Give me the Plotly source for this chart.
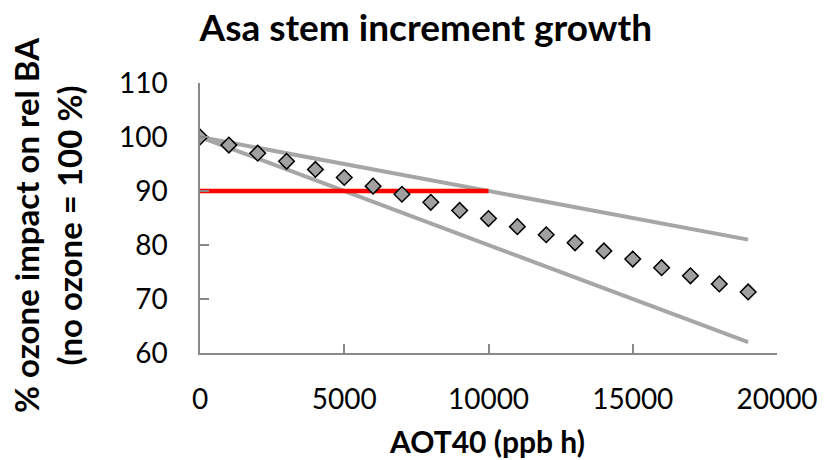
import plotly.graph_objects as go

# AOT40 exposure (ppb h) and modelled ozone impact on relative basal area (%)
aot40 = [0, 1000, 2000, 3000, 4000, 5000, 6000, 7000, 8000, 9000,
         10000, 11000, 12000, 13000, 14000, 15000, 16000, 17000, 18000, 19000]
impact = [100.0, 98.5, 97.0, 95.5, 94.0, 92.5, 90.9, 89.4, 87.9, 86.4,
          84.9, 83.4, 81.9, 80.4, 78.9, 77.4, 75.8, 74.3, 72.8, 71.3]

# Envelope lines (upper and lower bound of the response)
upper_x = [0, 19000]
upper_y = [100, 81]
lower_x = [0, 19000]
lower_y = [100, 62]

# 10 % reduction threshold
threshold_x = [0, 10000]
threshold_y = [90, 90]

x_ticks = [0, 5000, 10000, 15000, 20000]
y_ticks = [60, 70, 80, 90, 100, 110]

FONT = "Lato"
GRAY = "#A6A6A6"
AXIS = "#898989"

fig = go.Figure()
fig.add_trace(go.Scatter(x=upper_x, y=upper_y, mode="lines",
                         line=dict(color=GRAY, width=4), hoverinfo="skip"))
fig.add_trace(go.Scatter(x=lower_x, y=lower_y, mode="lines",
                         line=dict(color=GRAY, width=4), hoverinfo="skip"))
fig.add_trace(go.Scatter(x=threshold_x, y=threshold_y, mode="lines",
                         line=dict(color="#FF0000", width=4.5), hoverinfo="skip"))
fig.add_trace(go.Scatter(x=aot40, y=impact, mode="markers",
                         marker=dict(symbol="diamond", size=12, color="#A0A0A0",
                                     line=dict(color="#000000", width=1.5))))

fig.update_layout(
    width=830, height=460,
    margin=dict(l=200, r=41, t=83, b=107),
    paper_bgcolor="white", plot_bgcolor="white",
    showlegend=False,
    font=dict(family=FONT, color="#000000"),
    title=dict(text="<b>Asa stem increment growth</b>",
               font=dict(family=FONT, size=37, color="#000000"),
               x=0.513, xanchor="center", y=0.939, yanchor="middle"),
)

fig.update_xaxes(
    range=[0, 20000], tickvals=x_ticks, ticktext=[str(v) for v in x_ticks],
    showgrid=False, zeroline=False, showline=True, linecolor=AXIS, linewidth=1.5,
    ticks="inside", ticklen=9, tickwidth=1.5, tickcolor=AXIS,
    tickfont=dict(family=FONT, size=28), ticklabelstandoff=21,
)
fig.update_yaxes(
    range=[60, 110], tickvals=y_ticks, ticktext=[str(v) for v in y_ticks],
    showgrid=False, zeroline=False, showline=True, linecolor=AXIS, linewidth=1.5,
    ticks="inside", ticklen=9, tickwidth=1.5, tickcolor=AXIS,
    tickfont=dict(family=FONT, size=28), ticklabelstandoff=25,
)

fig.add_annotation(text="<b>AOT40 (ppb h)</b>", xref="paper", yref="paper",
                   x=0.497, y=-0.326, xanchor="center", yanchor="middle",
                   showarrow=False, font=dict(family=FONT, size=30))
fig.add_annotation(text="<b>% ozone impact on rel BA<br>(no ozone = 100 %)</b>",
                   xref="paper", yref="paper", textangle=-90,
                   x=-0.263, y=0.475, xanchor="center", yanchor="middle",
                   showarrow=False, font=dict(family=FONT, size=33))

fig.write_html("out.html")
